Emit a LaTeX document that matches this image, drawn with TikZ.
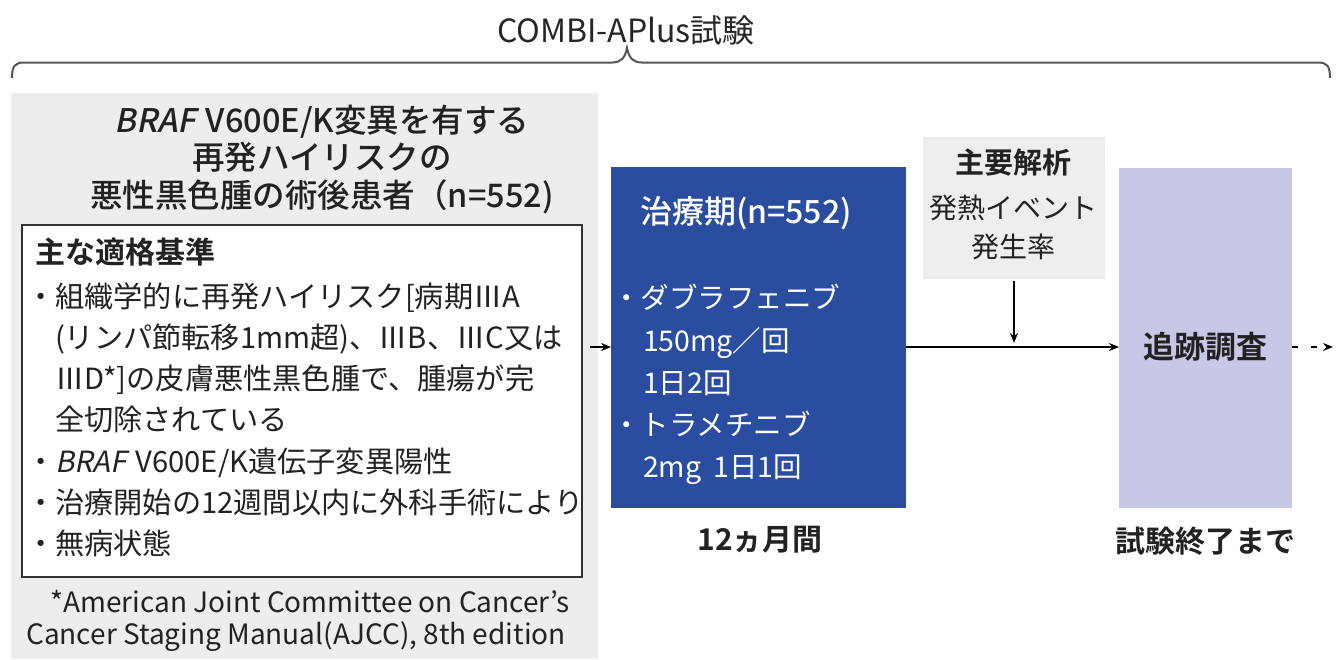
\documentclass[tikz,border=0pt]{standalone}
\usepackage{fontspec}
\setmainfont{Noto Sans CJK JP}[BoldFont={Noto Sans CJK JP Bold},AutoFakeSlant=0.2]
\newfontfamily\medfont{Noto Sans CJK JP Medium}[AutoFakeSlant=0.2]
\usetikzlibrary{arrows.meta}
\definecolor{txt}{HTML}{222222}
\definecolor{bgray}{HTML}{EDEDED}
\definecolor{navy}{HTML}{2B4DA0}
\definecolor{lav}{HTML}{C6C8E5}
\definecolor{gray2}{HTML}{EEEEEE}
\definecolor{bracec}{HTML}{555555}
\newcommand{\fs}[1]{\fontsize{#1}{#1}\selectfont}
\newcommand{\bul}{・}
\newcommand{\ind}{\hspace*{29pt}}
\begin{document}
\begin{tikzpicture}[x=1pt,y=-1pt,
  every node/.style={inner sep=0pt,outer sep=0pt,text=txt},
  panel/.style={anchor=north west,draw=none},
  arr/.style={-{Stealth[length=10pt,width=8pt]},line width=1.6pt,draw=black},
  dasharr/.style={-{Stealth[length=10pt,width=8pt]},line width=1.6pt,draw=black,dash pattern=on 6pt off 13pt},
  brace/.style={line width=2pt,draw=bracec},
  crit/.style={anchor=base west,font=\fs{29.2}},
  drug/.style={anchor=base west,font=\fs{28.5},text=white},
  boldlab/.style={font=\bfseries\fs{30}}]
\useasboundingbox (0,0) rectangle (1338,659);
\fill[white] (0,0) rectangle (1338,659);

% title and brace
\node[font=\fs{32},text=black!85] (title) at (626,30) {COMBI-APlus試験};
\draw[brace] (12,78) .. controls (12,66) and (15,62.5) .. (24,62.5) -- (612,62.5)
  .. controls (621,62.5) and (625,58) .. (627,48)
  .. controls (629,58) and (633,62.5) .. (642,62.5) -- (1318,62.5)
  .. controls (1327,62.5) and (1330,66) .. (1330,78);

% left panel
\node[panel,fill=bgray,minimum width=587pt,minimum height=566pt] (left) at (11,93) {};
\node[align=center,font=\medfont\fontsize{32.5}{37.5}\selectfont] (hdr) at (322,159)
  {{\itshape BRAF}\hspace{0.3em}V600E/K変異を有する\\再発ハイリスクの\\悪性黒色腫の術後患者（n=552)};
\node[panel,fill=white,draw=black!80,line width=1.3pt,minimum width=560pt,minimum height=352pt] (wbox) at (22,225) {};
\node[anchor=west,font=\bfseries\fs{30}] (crith) at (35,252) {主な適格基準};
\node[crit] (c1) at (26,307) {\bul 組織学的に再発ハイリスク[病期ⅢA};
\node[crit] (c2) at (26,348.3) {\ind(リンパ節転移1mm超)、ⅢB、ⅢC又は};
\node[crit] (c3) at (26,389.6) {\ind ⅢD*]の皮膚悪性黒色腫で、腫瘍が完};
\node[crit] (c4) at (26,430.9) {\ind 全切除されている};
\node[crit] (c5) at (26,472.2) {\bul{\itshape BRAF}\hspace{0.3em}V600E/K遺伝子変異陽性};
\node[crit] (c6) at (26,513.5) {\bul 治療開始の12週間以内に外科手術により};
\node[crit] (c7) at (26,554.8) {\bul 無病状態};
\node[font=\fs{28}] (fn1) at (310,602) {*American Joint Committee on Cancer’s};
\node[font=\fs{28}] (fn2) at (296,637) {Cancer Staging Manual(AJCC), 8th edition};

% treatment box
\node[panel,fill=navy,minimum width=295pt,minimum height=341pt] (blue) at (611,167) {};
\node[anchor=west,font=\medfont\fs{32},text=white] (bh) at (640,213) {治療期(n=552)};
\node[drug] (d1) at (612,308) {\bul ダブラフェニブ};
\node[drug] (d2) at (643,351) {150mg／回};
\node[drug] (d3) at (643,393) {1日2回};
\node[drug] (d4) at (612,435) {\bul トラメチニブ};
\node[drug] (d5) at (643,477) {2mg\hspace{12pt}1日1回};
\node[boldlab] (dur) at (760,540) {12ヵ月間};

% primary analysis box
\node[panel,fill=gray2,minimum width=182pt,minimum height=142pt] (ga) at (923,137) {};
\node[font=\bfseries\fs{29}] (ga1) at (1013,163) {主要解析};
\node[font=\fs{28}] (ga2) at (1013,208) {発熱イベント};
\node[font=\fs{28}] (ga3) at (1013,247) {発生率};

% follow-up box
\node[panel,fill=lav,minimum width=173pt,minimum height=340pt] (fu) at (1119,168) {};
\node[font=\bfseries\fs{31}] (fut) at (1205,347) {追跡調査};
\node[boldlab] (end) at (1205,541) {試験終了まで};

% connectors
\coordinate (ay) at (0,347);
\coordinate (tail) at (1333,347);
\draw[arr] ([xshift=-8pt]left.east |- ay) -- (blue.west |- ay);
\draw[arr] (blue.east |- ay) -- (fu.west |- ay);
\draw[arr,shorten <=2pt,shorten >=4pt] (ga.south) -- (ga.south |- ay);
\draw[dasharr] (fu.east |- ay) -- (tail);
\end{tikzpicture}
\end{document}
